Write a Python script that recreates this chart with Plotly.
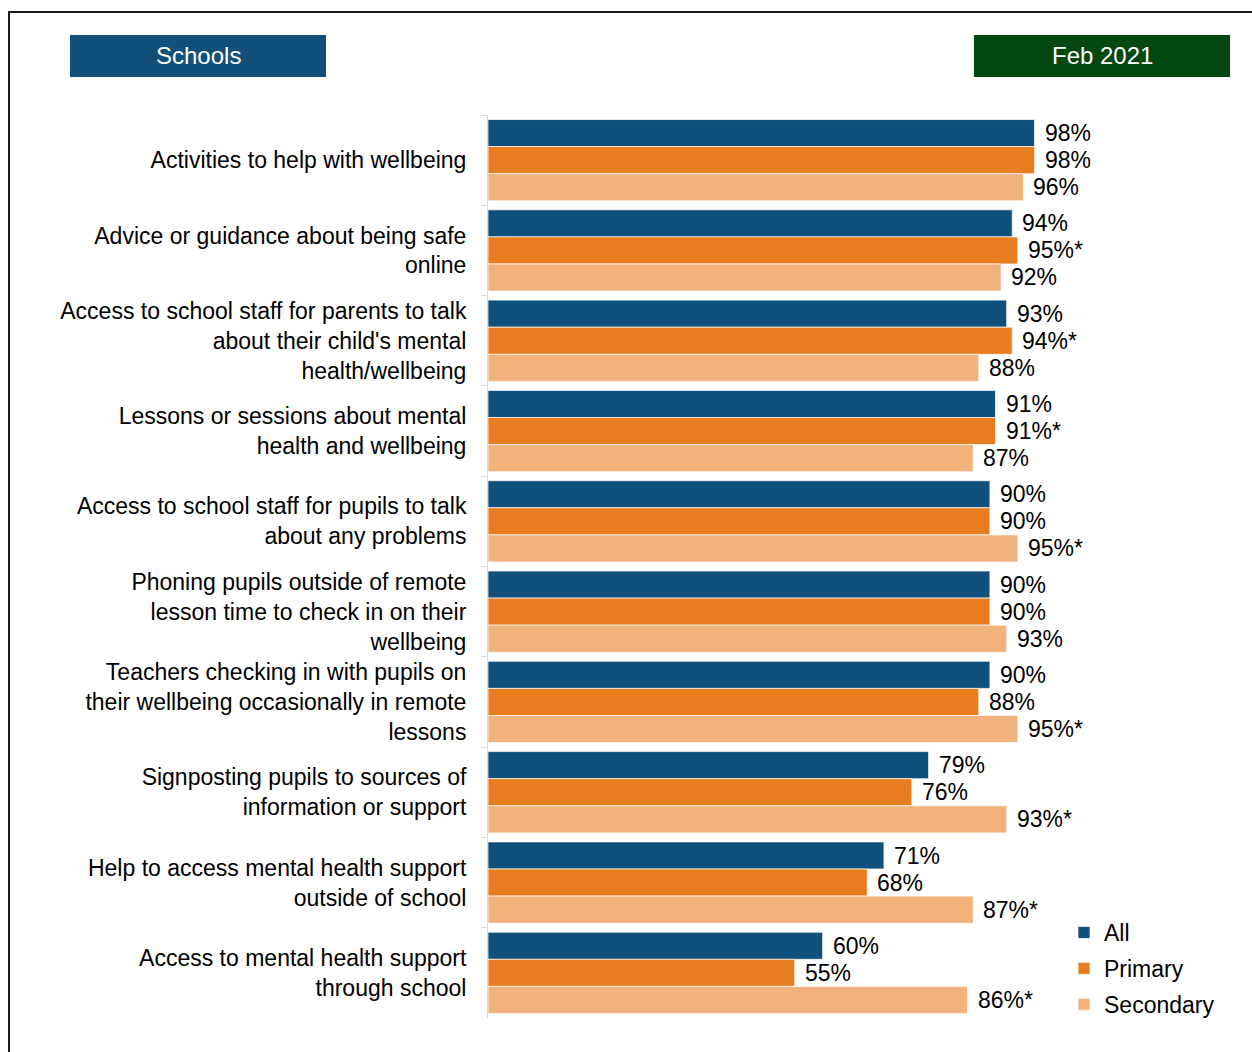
import plotly.graph_objects as go

# Survey items (top to bottom)
categories = [
    "Activities to help with wellbeing",
    "Advice or guidance about being safe<br>online",
    "Access to school staff for parents to talk<br>about their child's mental<br>health/wellbeing",
    "Lessons or sessions about mental<br>health and wellbeing",
    "Access to school staff for pupils to talk<br>about any problems",
    "Phoning pupils outside of remote<br>lesson time to check in on their<br>wellbeing",
    "Teachers checking in with pupils on<br>their wellbeing occasionally in remote<br>lessons",
    "Signposting pupils to sources of<br>information or support",
    "Help to access mental health support<br>outside of school",
    "Access to mental health support<br>through school",
]

# Percentage of schools offering each type of support
all_schools = [98, 94, 93, 91, 90, 90, 90, 79, 71, 60]
primary = [98, 95, 94, 91, 90, 90, 88, 76, 68, 55]
secondary = [96, 92, 88, 87, 95, 93, 95, 93, 87, 86]

# Significant-difference markers (asterisk after the value)
primary_sig = [False, True, True, True, False, False, False, False, False, False]
secondary_sig = [False, False, False, False, True, False, True, True, True, True]
all_sig = [False] * len(categories)

series = [
    ("All", all_schools, all_sig, "#11507A", 27),
    ("Primary", primary, primary_sig, "#E87D1F", 0),
    ("Secondary", secondary, secondary_sig, "#F2B27B", -27),
]

FONT = "Liberation Sans, Arial, sans-serif"
FS = 23

fig = go.Figure()
annotations = []
for i, (name, vals, sig, color, shift) in enumerate(series):
    fig.add_trace(go.Bar(
        y=categories, x=vals, name=name, orientation="h",
        marker=dict(color=color, line=dict(color="rgba(255,255,255,0.7)", width=1)),
        legendgroup=name, hoverinfo="skip",
    ))
    for cat, v, s in zip(categories, vals, sig):
        annotations.append(dict(
            x=v, y=cat, xref="x", yref="y", text=f"{v}%" + ("*" if s else ""),
            showarrow=False, xanchor="left", yanchor="middle",
            xshift=8, yshift=shift, font=dict(family=FONT, size=FS, color="#000000"),
        ))

# Plot area in pixels: x 488..1213, y 115..1018
L, R, T, B = 488, 1213, 115, 1018
W, H = R - L, B - T

def px(xp):
    return (xp - L) / W

def py(yp):
    return (B - yp) / H

# Header boxes
headers = [("Schools", 70, 326, "#11507A"), ("Feb 2021", 974, 1230, "#034711")]
shapes = []
for text, x0, x1, col in headers:
    shapes.append(dict(type="rect", xref="paper", yref="paper",
                       x0=px(x0), x1=px(x1), y0=py(77), y1=py(35),
                       fillcolor=col, line=dict(width=0), layer="above"))
    annotations.append(dict(x=(px(x0) + px(x1)) / 2, y=(py(77) + py(35)) / 2,
                            xref="paper", yref="paper", text=text, showarrow=False,
                            xanchor="center", yanchor="middle",
                            font=dict(family=FONT, size=24, color="#FFFFFF")))

# Outer frame
shapes.append(dict(type="rect", xref="paper", yref="paper",
                   x0=px(9), x1=px(1300), y0=py(1100), y1=py(12),
                   line=dict(color="#1a1a1a", width=2), fillcolor="rgba(0,0,0,0)"))

fig.update_layout(
    width=1252, height=1052,
    margin=dict(l=L, r=1252 - R, t=T, b=1052 - B, pad=0),
    paper_bgcolor="#FFFFFF", plot_bgcolor="#FFFFFF",
    barmode="group", bargap=0.1, bargroupgap=0,
    font=dict(family=FONT, size=FS, color="#000000"),
    xaxis=dict(range=[0, 130], visible=False, fixedrange=True),
    yaxis=dict(
        autorange="reversed", type="category", tickson="boundaries",
        ticks="outside", ticklen=6, tickcolor="#D9D9D9", tickwidth=1,
        showline=True, linecolor="#D9D9D9", linewidth=1,
        showgrid=False, ticklabelstandoff=16,
        tickfont=dict(family=FONT, size=FS, color="#000000"),
    ),
    legend=dict(
        x=px(1064), y=py(1026), xanchor="left", yanchor="bottom",
        font=dict(family=FONT, size=FS, color="#000000"),
        bgcolor="rgba(0,0,0,0)", tracegroupgap=3, traceorder="grouped",
    ),
    shapes=shapes,
    annotations=annotations,
    showlegend=True,
)

fig.write_html("out.html")
